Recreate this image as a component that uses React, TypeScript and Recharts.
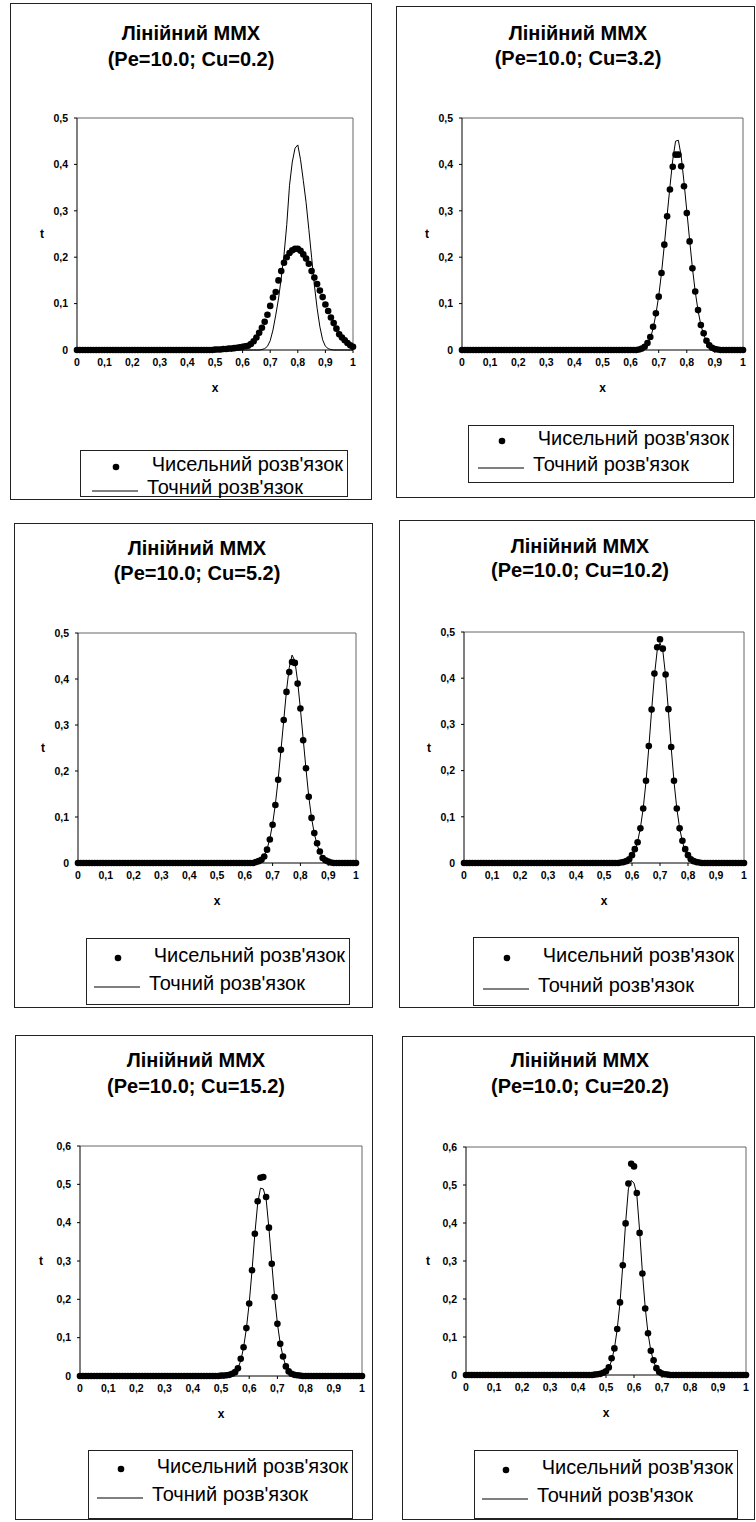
import React from 'react';
import { ComposedChart, Line, XAxis, YAxis, ReferenceLine } from 'recharts';

// ---------- data ----------
const X_GRID = [
  0, 0.01, 0.02, 0.03, 0.04, 0.05, 0.06, 0.07, 0.08, 0.09,
  0.1, 0.11, 0.12, 0.13, 0.14, 0.15, 0.16, 0.17, 0.18, 0.19,
  0.2, 0.21, 0.22, 0.23, 0.24, 0.25, 0.26, 0.27, 0.28, 0.29,
  0.3, 0.31, 0.32, 0.33, 0.34, 0.35, 0.36, 0.37, 0.38, 0.39,
  0.4, 0.41, 0.42, 0.43, 0.44, 0.45, 0.46, 0.47, 0.48, 0.49,
  0.5, 0.51, 0.52, 0.53, 0.54, 0.55, 0.56, 0.57, 0.58, 0.59,
  0.6, 0.61, 0.62, 0.63, 0.64, 0.65, 0.66, 0.67, 0.68, 0.69,
  0.7, 0.71, 0.72, 0.73, 0.74, 0.75, 0.76, 0.77, 0.78, 0.79,
  0.8, 0.81, 0.82, 0.83, 0.84, 0.85, 0.86, 0.87, 0.88, 0.89,
  0.9, 0.91, 0.92, 0.93, 0.94, 0.95, 0.96, 0.97, 0.98, 0.99,
  1,
];

const X_TICKS = [0, 0.1, 0.2, 0.3, 0.4, 0.5, 0.6, 0.7, 0.8, 0.9, 1];
const Y_TICKS_05 = [0, 0.1, 0.2, 0.3, 0.4, 0.5];
const Y_TICKS_06 = [0, 0.1, 0.2, 0.3, 0.4, 0.5, 0.6];

const TITLE = 'Лінійний ММХ';
const SUBTITLES = [
  '(Pe=10.0; Cu=0.2)',
  '(Pe=10.0; Cu=3.2)',
  '(Pe=10.0; Cu=5.2)',
  '(Pe=10.0; Cu=10.2)',
  '(Pe=10.0; Cu=15.2)',
  '(Pe=10.0; Cu=20.2)',
];
const SERIES_NUM = "Чисельний розв'язок";
const SERIES_EXACT = "Точний розв'язок";
const X_LABEL = 'x';
const Y_LABEL = 't';

// Cu = 0.2
const NUM_CU_0_2 = [
  0, 0, 0, 0, 0, 0, 0, 0, 0, 0,
  0, 0, 0, 0, 0, 0, 0, 0, 0, 0,
  0, 0, 0, 0, 0, 0, 0, 0, 0, 0,
  0, 0, 0, 0, 0, 0, 0, 0, 0, 0,
  0, 0, 0, 0, 0, 0, 0, 0, 0, 0,
  0.001, 0.001, 0.001, 0.002, 0.002, 0.003, 0.003, 0.004, 0.005, 0.006,
  0.007, 0.008, 0.009, 0.013, 0.019, 0.027, 0.037, 0.048, 0.061, 0.076,
  0.095, 0.113, 0.125, 0.15, 0.17, 0.188, 0.2, 0.209, 0.215, 0.218,
  0.218, 0.214, 0.206, 0.197, 0.186, 0.17, 0.156, 0.142, 0.128, 0.114,
  0.098, 0.084, 0.07, 0.058, 0.046, 0.034, 0.027, 0.021, 0.015, 0.01,
  0.007,
];
const EXACT_CU_0_2 = [
  0, 0, 0, 0, 0, 0, 0, 0, 0, 0,
  0, 0, 0, 0, 0, 0, 0, 0, 0, 0,
  0, 0, 0, 0, 0, 0, 0, 0, 0, 0,
  0, 0, 0, 0, 0, 0, 0, 0, 0, 0,
  0, 0, 0, 0, 0, 0, 0, 0, 0, 0,
  0, 0, 0, 0, 0, 0, 0, 0, 0, 0,
  0, 0, 0, 0, 0, 0, 0, 0.001, 0.003, 0.008,
  0.02, 0.043, 0.075, 0.11, 0.155, 0.205, 0.27, 0.355, 0.405, 0.435,
  0.442, 0.41, 0.365, 0.318, 0.26, 0.2, 0.14, 0.09, 0.05, 0.022,
  0.008, 0.003, 0.001, 0, 0, 0, 0, 0, 0, 0,
  0,
];

// Cu = 3.2
const NUM_CU_3_2 = [
  0, 0, 0, 0, 0, 0, 0, 0, 0, 0,
  0, 0, 0, 0, 0, 0, 0, 0, 0, 0,
  0, 0, 0, 0, 0, 0, 0, 0, 0, 0,
  0, 0, 0, 0, 0, 0, 0, 0, 0, 0,
  0, 0, 0, 0, 0, 0, 0, 0, 0, 0,
  0, 0, 0, 0, 0, 0, 0, 0, 0, 0,
  0, 0, 0, 0.001, 0.003, 0.007, 0.015, 0.028, 0.05, 0.079,
  0.115, 0.166, 0.227, 0.288, 0.346, 0.395, 0.421, 0.421, 0.396, 0.353,
  0.295, 0.234, 0.176, 0.126, 0.086, 0.054, 0.036, 0.02, 0.01, 0.005,
  0.002, 0.001, 0, 0, 0, 0, 0, 0, 0, 0,
  0,
];
const EXACT_CU_3_2 = [
  0, 0, 0, 0, 0, 0, 0, 0, 0, 0,
  0, 0, 0, 0, 0, 0, 0, 0, 0, 0,
  0, 0, 0, 0, 0, 0, 0, 0, 0, 0,
  0, 0, 0, 0, 0, 0, 0, 0, 0, 0,
  0, 0, 0, 0, 0, 0, 0, 0, 0, 0,
  0, 0, 0, 0, 0, 0, 0, 0, 0, 0,
  0, 0, 0, 0.001, 0.002, 0.005, 0.012, 0.025, 0.046, 0.077,
  0.116, 0.166, 0.226, 0.29, 0.352, 0.41, 0.45, 0.452, 0.418, 0.362,
  0.3, 0.237, 0.177, 0.126, 0.085, 0.054, 0.033, 0.019, 0.01, 0.005,
  0.002, 0.001, 0, 0, 0, 0, 0, 0, 0, 0,
  0,
];

// Cu = 5.2
const NUM_CU_5_2 = [
  0, 0, 0, 0, 0, 0, 0, 0, 0, 0,
  0, 0, 0, 0, 0, 0, 0, 0, 0, 0,
  0, 0, 0, 0, 0, 0, 0, 0, 0, 0,
  0, 0, 0, 0, 0, 0, 0, 0, 0, 0,
  0, 0, 0, 0, 0, 0, 0, 0, 0, 0,
  0, 0, 0, 0, 0, 0, 0, 0, 0, 0,
  0, 0, 0, 0, 0.002, 0.004, 0.007, 0.014, 0.029, 0.051,
  0.083, 0.126, 0.181, 0.246, 0.311, 0.372, 0.415, 0.437, 0.435, 0.39,
  0.336, 0.267, 0.206, 0.144, 0.098, 0.065, 0.043, 0.025, 0.011, 0.006,
  0.003, 0.001, 0, 0, 0, 0, 0, 0, 0, 0,
  0,
];
const EXACT_CU_5_2 = [
  0, 0, 0, 0, 0, 0, 0, 0, 0, 0,
  0, 0, 0, 0, 0, 0, 0, 0, 0, 0,
  0, 0, 0, 0, 0, 0, 0, 0, 0, 0,
  0, 0, 0, 0, 0, 0, 0, 0, 0, 0,
  0, 0, 0, 0, 0, 0, 0, 0, 0, 0,
  0, 0, 0, 0, 0, 0, 0, 0, 0, 0,
  0, 0, 0, 0, 0.001, 0.003, 0.007, 0.016, 0.03, 0.053,
  0.085, 0.128, 0.182, 0.245, 0.31, 0.375, 0.425, 0.452, 0.44, 0.395,
  0.335, 0.27, 0.205, 0.145, 0.098, 0.064, 0.04, 0.023, 0.012, 0.006,
  0.003, 0.001, 0, 0, 0, 0, 0, 0, 0, 0,
  0,
];

// Cu = 10.2
const NUM_CU_10_2 = [
  0, 0, 0, 0, 0, 0, 0, 0, 0, 0,
  0, 0, 0, 0, 0, 0, 0, 0, 0, 0,
  0, 0, 0, 0, 0, 0, 0, 0, 0, 0,
  0, 0, 0, 0, 0, 0, 0, 0, 0, 0,
  0, 0, 0, 0, 0, 0, 0, 0, 0, 0,
  0, 0, 0, 0, 0, 0, 0.001, 0.002, 0.004, 0.008,
  0.017, 0.03, 0.045, 0.075, 0.118, 0.178, 0.253, 0.332, 0.41, 0.467,
  0.484, 0.464, 0.408, 0.333, 0.251, 0.178, 0.118, 0.075, 0.048, 0.03,
  0.017, 0.008, 0.004, 0.002, 0.001, 0, 0, 0, 0, 0,
  0, 0, 0, 0, 0, 0, 0, 0, 0, 0,
  0,
];
const EXACT_CU_10_2 = [
  0, 0, 0, 0, 0, 0, 0, 0, 0, 0,
  0, 0, 0, 0, 0, 0, 0, 0, 0, 0,
  0, 0, 0, 0, 0, 0, 0, 0, 0, 0,
  0, 0, 0, 0, 0, 0, 0, 0, 0, 0,
  0, 0, 0, 0, 0, 0, 0, 0, 0, 0,
  0, 0, 0, 0, 0, 0, 0, 0.001, 0.003, 0.007,
  0.014, 0.026, 0.046, 0.076, 0.118, 0.176, 0.25, 0.33, 0.405, 0.46,
  0.476, 0.46, 0.405, 0.33, 0.25, 0.176, 0.118, 0.076, 0.046, 0.026,
  0.014, 0.007, 0.003, 0.001, 0, 0, 0, 0, 0, 0,
  0, 0, 0, 0, 0, 0, 0, 0, 0, 0,
  0,
];

// Cu = 15.2
const NUM_CU_15_2 = [
  0, 0, 0, 0, 0, 0, 0, 0, 0, 0,
  0, 0, 0, 0, 0, 0, 0, 0, 0, 0,
  0, 0, 0, 0, 0, 0, 0, 0, 0, 0,
  0, 0, 0, 0, 0, 0, 0, 0, 0, 0,
  0, 0, 0, 0, 0, 0, 0, 0, 0, 0,
  0.001, 0.001, 0.002, 0.003, 0.006, 0.01, 0.02, 0.045, 0.075, 0.125,
  0.189, 0.276, 0.371, 0.456, 0.517, 0.519, 0.467, 0.387, 0.293, 0.206,
  0.136, 0.084, 0.051, 0.025, 0.012, 0.006, 0.003, 0.002, 0.001, 0,
  0, 0, 0, 0, 0, 0, 0, 0, 0, 0,
  0, 0, 0, 0, 0, 0, 0, 0, 0, 0,
  0,
];
const EXACT_CU_15_2 = [
  0, 0, 0, 0, 0, 0, 0, 0, 0, 0,
  0, 0, 0, 0, 0, 0, 0, 0, 0, 0,
  0, 0, 0, 0, 0, 0, 0, 0, 0, 0,
  0, 0, 0, 0, 0, 0, 0, 0, 0, 0,
  0, 0, 0, 0, 0, 0, 0, 0, 0, 0,
  0, 0, 0.001, 0.002, 0.004, 0.009, 0.02, 0.04, 0.074, 0.124,
  0.19, 0.275, 0.37, 0.45, 0.49, 0.488, 0.462, 0.385, 0.295, 0.207,
  0.137, 0.085, 0.05, 0.026, 0.012, 0.005, 0.002, 0.001, 0, 0,
  0, 0, 0, 0, 0, 0, 0, 0, 0, 0,
  0, 0, 0, 0, 0, 0, 0, 0, 0, 0,
  0,
];

// Cu = 20.2
const NUM_CU_20_2 = [
  0, 0, 0, 0, 0, 0, 0, 0, 0, 0,
  0, 0, 0, 0, 0, 0, 0, 0, 0, 0,
  0, 0, 0, 0, 0, 0, 0, 0, 0, 0,
  0, 0, 0, 0, 0, 0, 0, 0, 0, 0,
  0, 0, 0, 0, 0, 0, 0.001, 0.002, 0.003, 0.006,
  0.01, 0.02, 0.044, 0.07, 0.121, 0.191, 0.289, 0.399, 0.504, 0.556,
  0.549, 0.479, 0.374, 0.267, 0.175, 0.11, 0.064, 0.039, 0.018, 0.008,
  0.004, 0.002, 0.001, 0, 0, 0, 0, 0, 0, 0,
  0, 0, 0, 0, 0, 0, 0, 0, 0, 0,
  0, 0, 0, 0, 0, 0, 0, 0, 0, 0,
  0,
];
const EXACT_CU_20_2 = [
  0, 0, 0, 0, 0, 0, 0, 0, 0, 0,
  0, 0, 0, 0, 0, 0, 0, 0, 0, 0,
  0, 0, 0, 0, 0, 0, 0, 0, 0, 0,
  0, 0, 0, 0, 0, 0, 0, 0, 0, 0,
  0, 0, 0, 0, 0, 0, 0, 0, 0.001, 0.003,
  0.008, 0.018, 0.038, 0.07, 0.12, 0.19, 0.29, 0.4, 0.49, 0.512,
  0.505, 0.475, 0.38, 0.27, 0.178, 0.11, 0.064, 0.036, 0.018, 0.008,
  0.003, 0.001, 0, 0, 0, 0, 0, 0, 0, 0,
  0, 0, 0, 0, 0, 0, 0, 0, 0, 0,
  0, 0, 0, 0, 0, 0, 0, 0, 0, 0,
  0,
];

const NUM_SERIES = [NUM_CU_0_2, NUM_CU_3_2, NUM_CU_5_2, NUM_CU_10_2, NUM_CU_15_2, NUM_CU_20_2];
const EXACT_SERIES = [EXACT_CU_0_2, EXACT_CU_3_2, EXACT_CU_5_2, EXACT_CU_10_2, EXACT_CU_15_2, EXACT_CU_20_2];
const Y_MAX = [0.5, 0.5, 0.5, 0.5, 0.6, 0.6];

// ---------- layout (page px) ----------
type Layout = {
  box: [number, number, number, number];
  plot: [number, number, number, number];
  titleX: number;
  title1Y: number;
  title2Y: number;
  legend: [number, number, number, number];
  rowY: [number, number];
  tOff: number;
};

const LAYOUT: Layout[] = [
  { box: [10, 3, 372, 500], plot: [77, 118, 353, 350], titleX: 191, title1Y: 33, title2Y: 59, legend: [80, 450, 348, 497], rowY: [464, 487], tOff: 13 },
  { box: [396, 6, 755, 498], plot: [462, 118, 743, 350], titleX: 578, title1Y: 33, title2Y: 58, legend: [468, 425, 734, 483], rowY: [438, 464], tOff: 13 },
  { box: [14, 523, 373, 1008], plot: [78, 633, 356, 863], titleX: 197, title1Y: 548, title2Y: 573, legend: [86, 938, 350, 1005], rowY: [955, 983], tOff: 13 },
  { box: [399, 520, 755, 1008], plot: [464, 632, 744, 863], titleX: 580, title1Y: 546, title2Y: 570, legend: [473, 937, 739, 1006], rowY: [955, 985], tOff: 13 },
  { box: [15, 1035, 373, 1520], plot: [80, 1146, 362, 1376], titleX: 196, title1Y: 1060, title2Y: 1086, legend: [88, 1450, 353, 1519], rowY: [1466, 1494], tOff: 9 },
  { box: [402, 1036, 755, 1520], plot: [466, 1147, 746, 1375], titleX: 580, title1Y: 1060, title2Y: 1086, legend: [474, 1450, 738, 1519], rowY: [1467, 1495], tOff: 10 },
];

const FONT = "'Liberation Sans', Arial, Helvetica, sans-serif";
const Y_AXIS_W = 50;
const M_TOP = 10;
const M_RIGHT = 10;
const X_AXIS_H = 48;

const fmt = (v: number) => String(v).replace('.', ',');

const tickStyle = { fill: '#000', fontSize: 10.5, fontWeight: 700, fontFamily: FONT };
const labelStyle = { fill: '#000', fontSize: 12, fontWeight: 700, fontFamily: FONT };

function Panel({ idx }: { idx: number }) {
  const L = LAYOUT[idx];
  const ymax = Y_MAX[idx];
  const data = X_GRID.map((x, i) => ({ x, num: NUM_SERIES[idx][i], exact: EXACT_SERIES[idx][i] }));
  const [pl, pt, pr, pb] = L.plot;
  const chartLeft = pl - Y_AXIS_W;
  const chartTop = pt - M_TOP;
  const W = pr - chartLeft + M_RIGHT;
  const H = pb - chartTop + X_AXIS_H + 2;
  const [bl, bt, br, bb] = L.box;
  const [ll, lt, lr, lb] = L.legend;

  return (
    <>
      <div
        style={{
          position: 'absolute', left: bl, top: bt, width: br - bl, height: bb - bt,
          border: '1px solid #222', boxSizing: 'border-box',
        }}
      />
      <div
        style={{
          position: 'absolute', left: L.titleX - 160, width: 320, top: L.title1Y - 12, height: 24,
          lineHeight: '24px', textAlign: 'center', fontFamily: FONT, fontWeight: 700, fontSize: 20, color: '#000',
        }}
      >
        {TITLE}
      </div>
      <div
        style={{
          position: 'absolute', left: L.titleX - 160, width: 320, top: L.title2Y - 12, height: 24,
          lineHeight: '24px', textAlign: 'center', fontFamily: FONT, fontWeight: 700, fontSize: 20, color: '#000',
        }}
      >
        {SUBTITLES[idx]}
      </div>
      <div style={{ position: 'absolute', left: chartLeft, top: chartTop }}>
        <ComposedChart width={W} height={H} data={data} margin={{ top: M_TOP, right: M_RIGHT, bottom: 2, left: 0 }}>
          <XAxis
            type="number"
            dataKey="x"
            domain={[0, 1]}
            ticks={X_TICKS}
            interval={0}
            tickFormatter={fmt}
            stroke="#000"
            tick={tickStyle}
            tickSize={3}
            tickMargin={6}
            height={X_AXIS_H}
            label={{ value: X_LABEL, position: 'insideBottom', offset: 6, style: labelStyle }}
          />
          <YAxis
            type="number"
            domain={[0, ymax]}
            ticks={ymax === 0.6 ? Y_TICKS_06 : Y_TICKS_05}
            interval={0}
            tickFormatter={fmt}
            stroke="#000"
            tick={tickStyle}
            tickSize={3}
            tickMargin={6}
            width={Y_AXIS_W}
            label={{ value: Y_LABEL, position: 'insideLeft', offset: L.tOff, style: labelStyle }}
          />
          <ReferenceLine y={ymax} stroke="#666" strokeWidth={1} />
          <ReferenceLine x={1} stroke="#666" strokeWidth={1} />
          <Line
            type="linear"
            dataKey="exact"
            name={SERIES_EXACT}
            stroke="#000"
            strokeWidth={1}
            dot={false}
            activeDot={false}
            isAnimationActive={false}
          />
          <Line
            type="linear"
            dataKey="num"
            name={SERIES_NUM}
            stroke="none"
            dot={{ r: 3.3, fill: '#000', stroke: '#000', strokeWidth: 0 }}
            activeDot={false}
            isAnimationActive={false}
          />
        </ComposedChart>
      </div>
      <div
        style={{
          position: 'absolute', left: ll, top: lt, width: lr - ll, height: lb - lt,
          border: '1px solid #222', boxSizing: 'border-box', background: '#fff',
        }}
      />
      <svg style={{ position: 'absolute', left: 0, top: 0, overflow: 'visible' }} width={1} height={1}>
        <circle cx={lr - 232} cy={L.rowY[0] + 3} r={3.3} fill="#000" />
        <line x1={lr - 256} x2={lr - 210} y1={L.rowY[1] + 4} y2={L.rowY[1] + 4} stroke="#000" strokeWidth={1} />
      </svg>
      <div
        style={{
          position: 'absolute', left: lr - 260, width: 255, top: L.rowY[0] - 12, height: 24, lineHeight: '24px',
          textAlign: 'right', fontFamily: FONT, fontSize: 20, color: '#000', whiteSpace: 'nowrap',
        }}
      >
        {SERIES_NUM}
      </div>
      <div
        style={{
          position: 'absolute', left: lr - 201, width: 200, top: L.rowY[1] - 12, height: 24, lineHeight: '24px',
          textAlign: 'left', fontFamily: FONT, fontSize: 20, color: '#000', whiteSpace: 'nowrap',
        }}
      >
        {SERIES_EXACT}
      </div>
    </>
  );
}

export default function App() {
  return (
    <div style={{ position: 'absolute', left: 0, top: 0, width: 756, height: 1522, background: '#fff', overflow: 'hidden' }}>
      {[0, 1, 2, 3, 4, 5].map((i) => (
        <Panel key={i} idx={i} />
      ))}
    </div>
  );
}
